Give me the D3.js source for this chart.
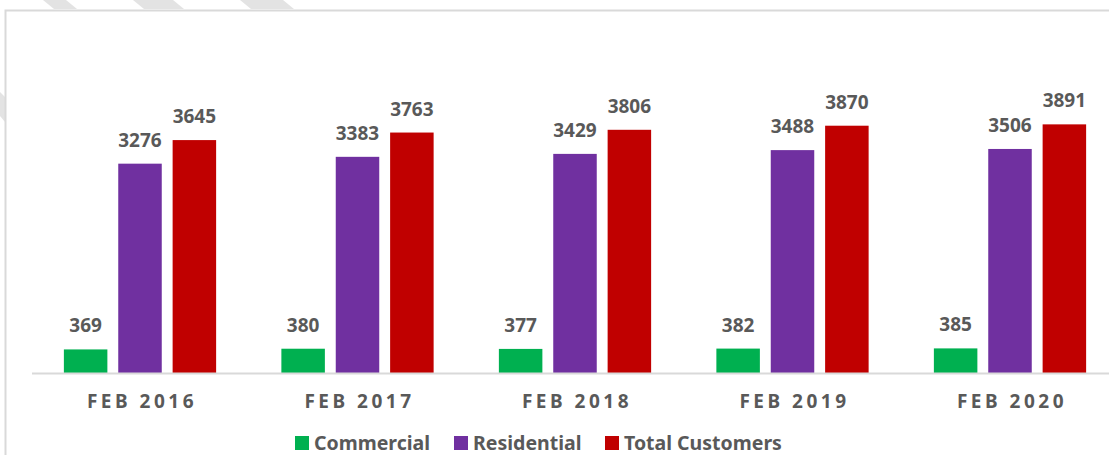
<!DOCTYPE html>
<html>
<head>
<meta charset="utf-8">
<script src="https://cdn.jsdelivr.net/npm/d3@7"></script>
<style>
  body { margin: 0; background: #fff; }
  svg { display: block; font-family: "Noto Sans", "Open Sans", sans-serif; }
  .val { font-size: 19px; font-weight: bold; fill: #595959; }
  .tick text { font-family: "Noto Sans", sans-serif; font-size: 19px; font-weight: bold; fill: #595959; letter-spacing: 3.5px; }
  .leg { font-size: 19.5px; font-weight: bold; fill: #595959; }
</style>
</head>
<body>
<div id="chart"></div>
<script>
var width = 1109
var height = 455

var periods = ['FEB 2016', 'FEB 2017', 'FEB 2018', 'FEB 2019', 'FEB 2020']
var series = ['Commercial', 'Residential', 'Total Customers']
var commercial = [369, 380, 377, 382, 385]
var residential = [3276, 3383, 3429, 3488, 3506]
var totalCustomers = [3645, 3763, 3806, 3870, 3891]
var values = [commercial, residential, totalCustomers]
var colors = ['#00B050', '#7030A0', '#C00000']

var baseY = 373

var svg = d3.select('#chart')
      .append('svg')
      .attr('width', width)
      .attr('height', height)

// light watermark stripes that peek out round the frame
var stripes = [
  [[43,0],[66,0],[77,9],[54,9]],
  [[133,0],[173,0],[184,9],[144,9]],
  [[240,0],[283,0],[294,9],[251,9]],
  [[0,92],[5,97],[5,122],[0,116]]
]
svg.selectAll('.stripe')
  .data(stripes)
  .enter().append('polygon')
  .attr('points', function(d){ return d.map(function(p){ return p.join(',') }).join(' ') })
  .attr('fill', '#e3e3e3')

// chart frame (top and left edges only, the rest is cut off)
svg.append('path')
  .attr('d', 'M5.5,455 V10.5 H' + width)
  .attr('fill', 'none')
  .attr('stroke', '#d9d9d9')
  .attr('stroke-width', 2)

var x0 = d3.scaleBand()
      .domain(periods)
      .range([31.25, 1118.75])
      .paddingInner(0.3)
      .paddingOuter(0.15)

var x1 = d3.scaleBand()
      .domain(series)
      .range([0, x0.bandwidth()])
      .paddingInner(0.2)

var y = d3.scaleLinear()
      .domain([0, 4500])
      .range([baseY, baseY - 4500 * 0.0639])

var rows = []
periods.forEach(function(p, i){
  series.forEach(function(s, j){
    rows.push({period: p, series: s, value: values[j][i], color: colors[j]})
  })
})

var bars = svg.append('g')
bars.selectAll('rect')
  .data(rows)
  .enter().append('rect')
  .attr('x', function(d){ return x0(d.period) + x1(d.series) })
  .attr('y', function(d){ return y(d.value) })
  .attr('width', x1.bandwidth())
  .attr('height', function(d){ return baseY - y(d.value) })
  .attr('fill', function(d){ return d.color })

bars.selectAll('text')
  .data(rows)
  .enter().append('text')
  .attr('class', 'val')
  .attr('x', function(d){ return x0(d.period) + x1(d.series) + x1.bandwidth()/2 })
  .attr('y', function(d){ return y(d.value) - 17 })
  .attr('text-anchor', 'middle')
  .text(function(d){ return d.value })

// baseline
svg.append('line')
  .attr('x1', 32)
  .attr('x2', width)
  .attr('y1', baseY + 0.5)
  .attr('y2', baseY + 0.5)
  .attr('stroke', '#d9d9d9')
  .attr('stroke-width', 2)

var xAxis = svg.append('g')
  .attr('transform', 'translate(0,' + baseY + ')')
  .call(d3.axisBottom(x0).tickSize(0).tickPadding(22))
xAxis.select('.domain').remove()
xAxis.selectAll('.tick text').attr('dx', '2px')

// legend
var legX = [295, 454, 605]
var legend = svg.append('g')
series.forEach(function(s, j){
  legend.append('rect')
    .attr('x', legX[j])
    .attr('y', 436)
    .attr('width', 14)
    .attr('height', 14)
    .attr('fill', colors[j])
  legend.append('text')
    .attr('class', 'leg')
    .attr('x', legX[j] + 19)
    .attr('y', 450)
    .text(s)
})
</script>
</body>
</html>
